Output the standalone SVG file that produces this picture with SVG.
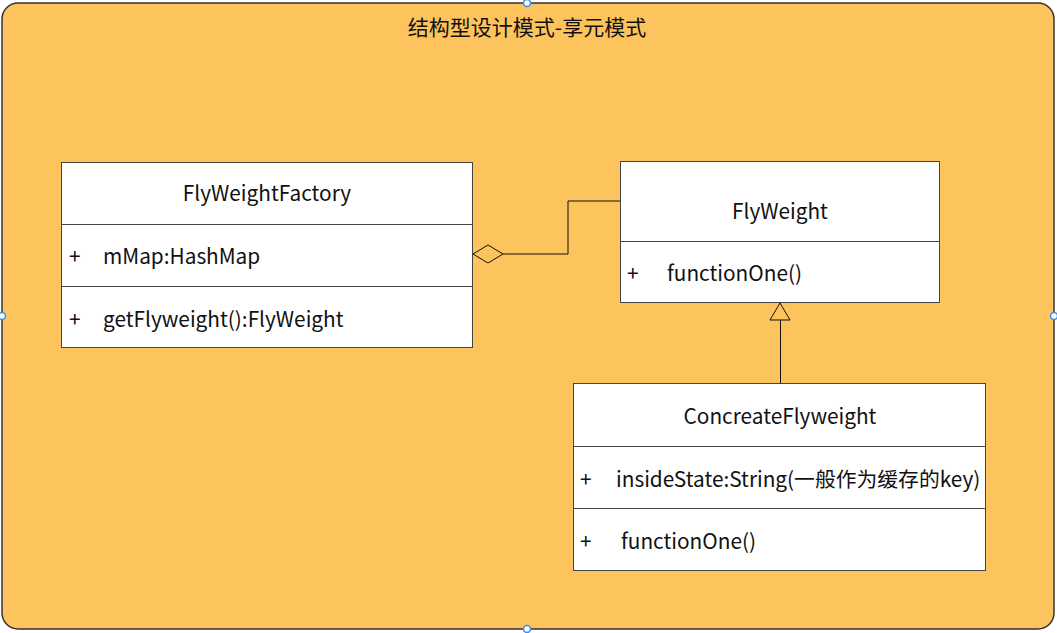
<svg xmlns="http://www.w3.org/2000/svg" width="1057" height="633" viewBox="0 0 1057 633">
<style>
.bg{fill:#FDC35C;stroke:#333;stroke-width:1.5}
.box{fill:#fff;stroke:#444;stroke-width:1}
.sep{stroke:#444;stroke-width:1}
.t{font-family:"Noto Sans CJK SC","Noto Sans",sans-serif;font-size:20.8px;fill:#111}
.c{text-anchor:middle}
.ln{fill:none;stroke:#111;stroke-width:1}
.h{fill:#fff;stroke:#3b8eea;stroke-width:1.5}
</style>
<rect width="1057" height="633" fill="#fff"/>
<g id="frame">
<rect class="bg" x="2" y="3" width="1052" height="626" rx="16" ry="16"/>
<text class="t c" x="527" y="35" style="font-size:21px">结构型设计模式-享元模式</text>
</g>
<g id="connectors">
<polyline class="ln" points="503,254 568,254 568,201 620,201"/>
<polygon class="ln" points="473,254 488,245 503,254 488,263" fill="#FDC35C"/>
<line class="ln" x1="780.5" y1="320" x2="780.5" y2="383"/>
<polygon class="ln" points="780,303 770,320 790,320" fill="#FDC35C"/>
</g>
<g id="FlyWeightFactory">
<rect class="box" x="61.5" y="162.5" width="411" height="185"/>
<line class="sep" x1="61.5" y1="224.5" x2="472.5" y2="224.5"/>
<line class="sep" x1="61.5" y1="286.5" x2="472.5" y2="286.5"/>
<text class="t c" x="267" y="201">FlyWeightFactory</text>
<text class="t" x="69" y="264">+</text>
<text class="t" x="103" y="264">mMap:HashMap</text>
<text class="t" x="69" y="327">+</text>
<text class="t" x="103" y="327">getFlyweight():FlyWeight</text>
</g>
<g id="FlyWeight">
<rect class="box" x="620.5" y="161.5" width="319" height="141"/>
<line class="sep" x1="620.5" y1="241.5" x2="939.5" y2="241.5"/>
<text class="t c" x="780" y="219">FlyWeight</text>
<text class="t" x="627" y="281">+</text>
<text class="t" x="667" y="281">functionOne()</text>
</g>
<g id="ConcreateFlyweight">
<rect class="box" x="573.5" y="383.5" width="412" height="187"/>
<line class="sep" x1="573.5" y1="446.5" x2="985.5" y2="446.5"/>
<line class="sep" x1="573.5" y1="508.5" x2="985.5" y2="508.5"/>
<text class="t c" x="780" y="424">ConcreateFlyweight</text>
<text class="t" x="580" y="487">+</text>
<text class="t" x="616" y="487">insideState:String(一般作为缓存的key)</text>
<text class="t" x="580" y="549">+</text>
<text class="t" x="621" y="549">functionOne()</text>
</g>
<g id="handles">
<circle class="h" cx="527" cy="3" r="3.5"/>
<circle class="h" cx="2" cy="316" r="3.5"/>
<circle class="h" cx="1054" cy="316" r="3.5"/>
<circle class="h" cx="527" cy="629" r="3.5"/>
</g>
</svg>
